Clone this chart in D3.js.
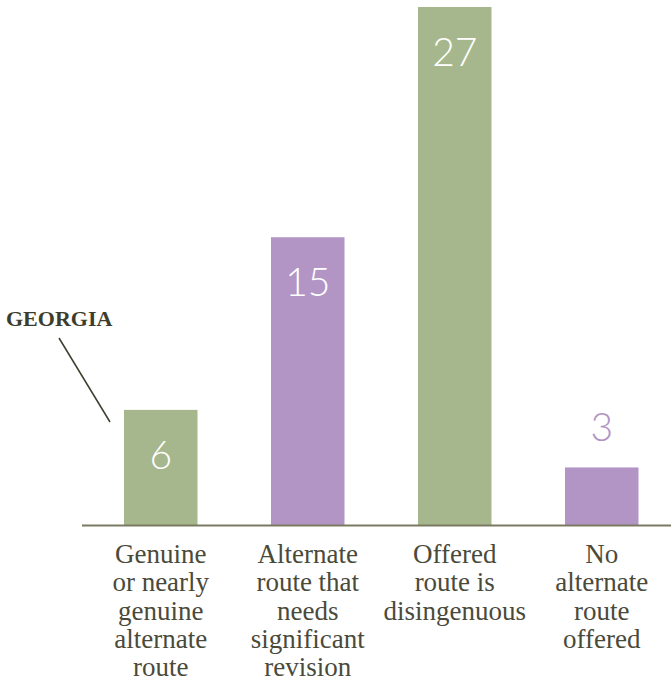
<!DOCTYPE html>
<html><head><meta charset="utf-8">
<script src="https://cdn.jsdelivr.net/npm/d3@7"></script>
<style>html,body{margin:0;padding:0;background:#fff;}svg{display:block;}</style>
</head><body>
<script>
const categories = [
  ["Genuine","or nearly","genuine","alternate","route"],
  ["Alternate","route that","needs","significant","revision"],
  ["Offered","route is","disingenuous"],
  ["No","alternate","route","offered"]
];
const values = [6, 15, 27, 3];
const barColors = ["#a7b78d", "#b295c5", "#a7b78d", "#b295c5"];
const annotationLabel = "GEORGIA";

const W = 671, H = 681;
const svg = d3.select("body").append("svg").attr("width", W).attr("height", H);

const x = d3.scaleBand().domain(d3.range(values.length))
  .range([87.25, 675.25]).paddingInner(0.5).paddingOuter(0.25);
const y = d3.scaleLinear().domain([0, 27]).range([525, 7]);

svg.selectAll("rect.bar").data(values).join("rect")
  .attr("class","bar")
  .attr("x", (d,i)=>x(i)).attr("width", x.bandwidth())
  .attr("y", d=>y(d)).attr("height", d=>y(0)-y(d))
  .attr("fill", (d,i)=>barColors[i]);

// axis baseline
svg.append("line").attr("x1", 82).attr("x2", W).attr("y1", y(0)+0.5).attr("y2", y(0)+0.5)
  .attr("stroke", "#7a7a62").attr("stroke-width", 2);

// value labels
svg.selectAll("text.val").data(values).join("text")
  .attr("class","val")
  .attr("x", (d,i)=>x(i)+x.bandwidth()/2)
  .attr("y", d => d < 5 ? y(d) - 26 : y(d) + 59)
  .attr("text-anchor","middle")
  .attr("font-family","Lato, 'Open Sans', sans-serif")
  .attr("font-weight", 300)
  .attr("font-size", 39)
  .attr("fill", (d,i)=> d < 5 ? barColors[i] : "#ffffff")
  .text(d=>d);

// category labels
const cat = svg.selectAll("text.cat").data(categories).join("text")
  .attr("class","cat")
  .attr("text-anchor","middle")
  .attr("font-family","'Liberation Serif', 'DejaVu Serif', serif")
  .attr("font-size", 27)
  .attr("fill", "#4a4a3a");
cat.selectAll("tspan").data(d=>d).join("tspan")
  .attr("x", function(){ const i = categories.indexOf(d3.select(this.parentNode).datum()); return x(i)+x.bandwidth()/2; })
  .attr("y", (d,j)=>563 + j*28.3)
  .text(d=>d);

// annotation
svg.append("text").attr("x", 6).attr("y", 326)
  .attr("font-family","'Liberation Serif', serif").attr("font-weight","bold")
  .attr("font-size", 22).attr("fill", "#3d3d2d").text(annotationLabel);
svg.append("line").attr("x1", 59).attr("y1", 338).attr("x2", 110).attr("y2", 422)
  .attr("stroke", "#3d3d2d").attr("stroke-width", 1.5);
</script>
</body></html>
